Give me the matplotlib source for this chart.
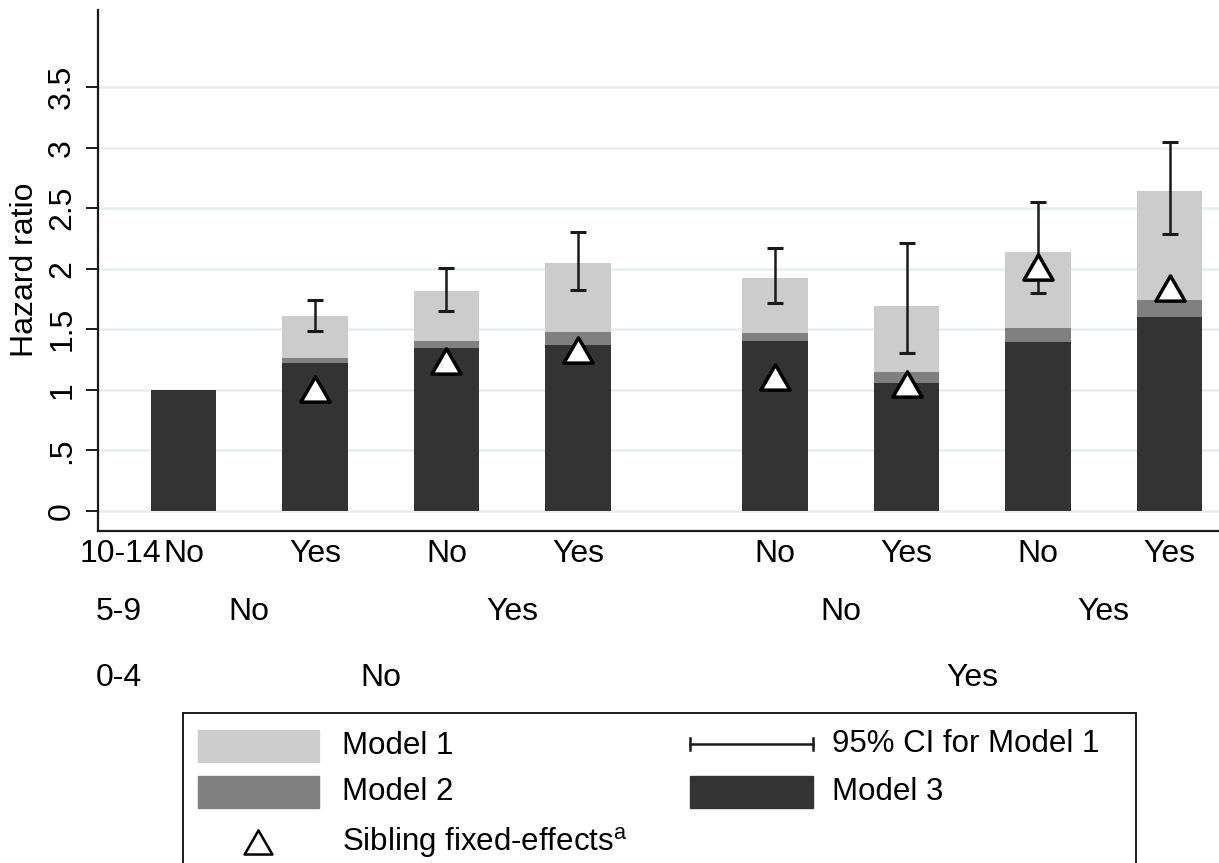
import numpy as np
import matplotlib
matplotlib.use("Agg")
import matplotlib.pyplot as plt
from matplotlib.patches import Rectangle
from matplotlib.path import Path
from matplotlib import transforms

plt.rcParams['font.family'] = ['Liberation Sans', 'DejaVu Sans']
plt.rcParams['mathtext.fontset'] = 'custom'
plt.rcParams['mathtext.rm'] = 'Liberation Sans'

# ---------------- data ----------------
positions = [0, 1, 2, 3, 4.5, 5.5, 6.5, 7.5]
row_10_14 = ["No", "Yes", "No", "Yes", "No", "Yes", "No", "Yes"]
pos_5_9 = [0.5, 2.5, 5, 7]
row_5_9 = ["No", "Yes", "No", "Yes"]
pos_0_4 = [1.5, 6]
row_0_4 = ["No", "Yes"]
row_names = ["10-14", "5-9", "0-4"]

model1 = [1.00, 1.61, 1.816, 2.047, 1.922, 1.695, 2.138, 2.644]
model2 = [1.00, 1.263, 1.400, 1.479, 1.473, 1.144, 1.508, 1.739]
model3 = [1.00, 1.221, 1.348, 1.367, 1.405, 1.056, 1.395, 1.598]
ci_low = [np.nan, 1.485, 1.652, 1.827, 1.721, 1.307, 1.802, 2.289]
ci_high = [np.nan, 1.746, 2.005, 2.301, 2.173, 2.209, 2.550, 3.043]
sibling = [np.nan, 1.011, 1.237, 1.333, 1.110, 1.051, 2.012, 1.845]

yticks = [0, 0.5, 1, 1.5, 2, 2.5, 3, 3.5]
ytick_labels = ["0", ".5", "1", "1.5", "2", "2.5", "3", "3.5"]

c1, c2, c3 = "#cccccc", "#808080", "#333333"
ink = "#1a1a1a"
fs = 23

W, H = 1219, 863
fig = plt.figure(figsize=(W / 100, H / 100), dpi=100)

def fx(px):
    return px / W

def fy(py):
    return 1 - py / H

ax = fig.add_axes([fx(98), fy(531), fx(1219 - 98), (531 - 10) / H])
ax.set_xlim(-0.65, 7.876)
ax.set_ylim(-0.165, 4.137)

for s in ["top", "right"]:
    ax.spines[s].set_visible(False)
for s in ["left", "bottom"]:
    ax.spines[s].set_linewidth(1.6)
    ax.spines[s].set_color(ink)

ax.set_yticks(yticks)
ax.set_yticklabels(ytick_labels, fontsize=fs, rotation=90, va="center")
ax.tick_params(axis="y", length=9, width=1.4, color=ink, pad=6)
ax.set_xticks([])
ax.yaxis.grid(True, color="#e6eff1", linewidth=1.8)
ax.set_axisbelow(True)

bw = 0.5
ax.bar(positions, model1, width=bw, color=c1, zorder=2)
ax.bar(positions, model2, width=bw, color=c2, zorder=3)
ax.bar(positions, model3, width=bw, color=c3, zorder=4)

ci_mid = [(l + h) / 2 for l, h in zip(ci_low, ci_high)]
ci_err = [(h - l) / 2 for l, h in zip(ci_low, ci_high)]
ax.errorbar(positions, ci_mid, yerr=ci_err, fmt="none", ecolor=ink,
            elinewidth=1.8, capsize=6, capthick=2.2, zorder=5)

tri = Path([(-1, -0.866), (1, -0.866), (0, 0.866), (-1, -0.866)],
           [Path.MOVETO, Path.LINETO, Path.LINETO, Path.CLOSEPOLY])
ax.plot(positions, sibling, linestyle="none", marker=tri, markersize=21,
        markerfacecolor="white", markeredgecolor="black", markeredgewidth=2.5,
        zorder=6)

fig.text(fx(25), fy(270), "Hazard ratio", rotation=90, ha="center", va="center",
         fontsize=fs)

# category label rows under the axis
trans = transforms.blended_transform_factory(ax.transData, fig.transFigure)
base_y = [562, 620, 686]
for p, t in zip(positions, row_10_14):
    ax.text(p, fy(base_y[0]), t, transform=trans, ha="center", va="baseline", fontsize=fs)
for p, t in zip(pos_5_9, row_5_9):
    ax.text(p, fy(base_y[1]), t, transform=trans, ha="center", va="baseline", fontsize=fs)
for p, t in zip(pos_0_4, row_0_4):
    ax.text(p, fy(base_y[2]), t, transform=trans, ha="center", va="baseline", fontsize=fs)
row_x = [80, 96, 96]
for name, x0, y0 in zip(row_names, row_x, base_y):
    fig.text(fx(x0), fy(y0), name, ha="left", va="baseline", fontsize=fs)

# ---------------- legend (pixel-coordinate axes) ----------------
lax = fig.add_axes([fx(183), fy(900), fx(1136 - 183), (900 - 713) / H])
lax.set_xlim(183, 1136)
lax.set_ylim(900, 713)
lax.set_xticks([])
lax.set_yticks([])
for s in ["top", "left", "right", "bottom"]:
    lax.spines[s].set_linewidth(1.4)
    lax.spines[s].set_color(ink)

lax.add_patch(Rectangle((198, 730), 121, 32, color=c1))
lax.add_patch(Rectangle((198, 776), 121, 32, color=c2))
lax.add_patch(Rectangle((690, 776), 123, 32, color=c3))
lax.plot([690, 813], [744, 744], color=ink, lw=1.8)
lax.plot([690, 690], [738, 750], color=ink, lw=1.8)
lax.plot([813, 813], [738, 750], color=ink, lw=1.8)
lax.plot([258], [842], linestyle="none", marker=tri, markersize=20,
         markerfacecolor="white", markeredgecolor="black", markeredgewidth=1.8)

lfs = 22.5
lax.text(342, 746, "Model 1", ha="left", va="center", fontsize=lfs)
lax.text(342, 792, "Model 2", ha="left", va="center", fontsize=lfs)
lax.text(342, 842, r"Sibling fixed-effects$^{\mathrm{a}}$", ha="left", va="center", fontsize=lfs)
lax.text(832, 744, "95% CI for Model 1", ha="left", va="center", fontsize=lfs)
lax.text(832, 792, "Model 3", ha="left", va="center", fontsize=lfs)

fig.savefig("out.png", dpi=100)
